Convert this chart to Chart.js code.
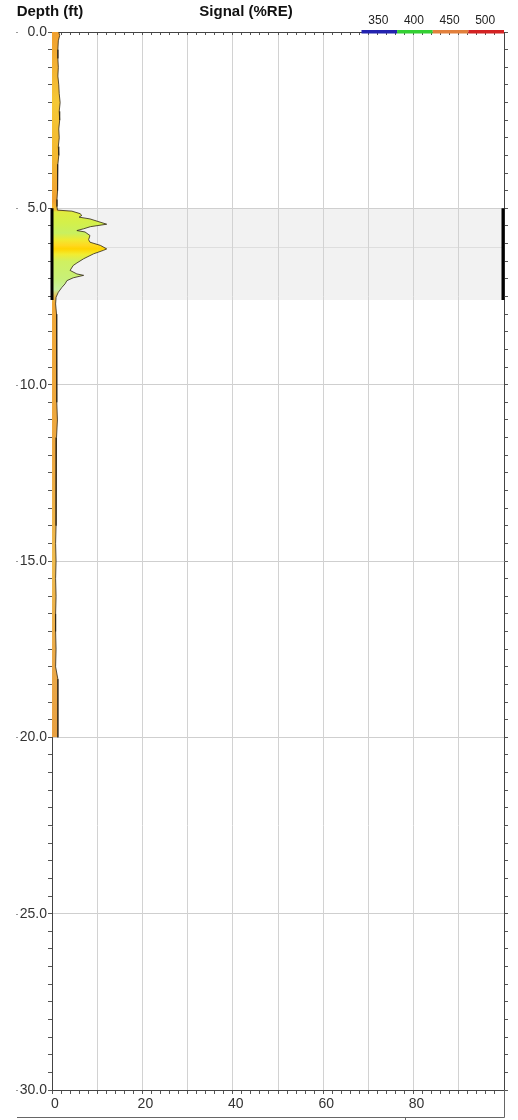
<!DOCTYPE html>
<html><head><meta charset="utf-8">
<script src="https://cdn.jsdelivr.net/npm/chart.js@4.4.1/dist/chart.umd.min.js"></script>
<style>html,body{margin:0;padding:0;background:#fff;overflow:hidden}#wrap{width:518px;height:1120px;position:relative}</style>
</head><body><div id="wrap"><canvas id="c" width="518" height="1120"></canvas></div>
<script>
// ---- data ----
const depthFt = [0.0,0.1,0.25,0.5,0.75,1.0,1.25,1.5,1.75,2.0,2.25,2.5,2.75,3.0,3.25,3.5,3.75,4.0,4.25,4.5,4.75,4.95,5.05,
  5.08,5.15,5.2,5.25,5.3,5.45,5.52,5.58,5.63,5.67,5.77,5.89,5.96,6.05,6.15,6.19,6.29,6.43,6.55,6.62,6.76,6.86,6.9,6.97,7.05,7.14,7.24,7.38,7.52,7.71,
  8.0,8.5,9.0,9.5,10.0,10.5,11.0,11.5,12.0,12.5,13.0,13.5,14.0,14.5,15.0,15.5,16.0,16.5,17.0,17.5,18.0,18.35,18.5,19.0,19.5,20.0];
const signalRE = [1.5,1.7,1.4,1.3,1.3,1.4,1.3,1.5,1.6,1.8,1.6,1.7,1.5,1.6,1.4,1.5,1.3,1.3,1.2,1.2,1.1,1.1,1.2,
  4.4,6.2,6.6,6.0,8.4,12.1,8.5,7.0,5.5,7.3,8.4,8.1,8.4,10.7,12.1,11.4,9.2,7.0,5.5,4.7,4.0,5.5,7.0,4.7,3.3,2.9,2.2,1.4,0.9,0.8,
  1.0,1.1,1.0,1.1,1.1,1.0,1.2,1.0,0.9,0.9,0.9,0.9,0.9,0.8,0.9,0.8,0.9,0.8,0.8,0.9,0.8,1.3,1.3,1.3,1.3,1.3];
const depthLabelTicks = [0,5,10,15,20,25,30];
const signalLabelTicks = [0,20,40,60,80];
const signalGridTicks = [10,20,30,40,50,60,70,80,90];
const highlightBand = [5.0, 7.6];
const bandDivider = 6.1;
const wavelengthLabels = ['350','400','450','500'];

// ---- styles ----
const wavelengthColors = ['#2323b0','#33d033','#e2803c','#d42222'];
const fillStops = [[0,'#f0a030'],[1.0,'#f3b232'],[2.0,'#f5c835'],[3.5,'#f3b830'],[4.8,'#f0a030'],[5.05,'#f0c030'],
  [5.1,'#e0ec40'],[5.4,'#d4f04a'],[5.7,'#c8f060'],[5.9,'#f0ea30'],[6.05,'#ffd820'],[6.15,'#ffd400'],[6.3,'#f2ec30'],
  [6.5,'#d0f060'],[7.0,'#c8f078'],[7.3,'#c8f0a0'],[7.5,'#e8c050'],[7.7,'#f0a838'],[12,'#eda840'],[15,'#efbc50'],[18,'#eaa848'],[20,'#e8a040']];

Chart.defaults.font.family = '"Liberation Sans", Arial, sans-serif';
Chart.defaults.color = '#333';

const near = (v, arr) => arr.some(t => Math.abs(v - t) < 1e-6);

function fillGradient(ctx) {
  const chart = ctx.chart;
  const ys = chart.scales && chart.scales.y;
  if (!chart.chartArea || !ys) return '#f0a030';
  const top = ys.getPixelForValue(0), bot = ys.getPixelForValue(20);
  const g = chart.ctx.createLinearGradient(0, top, 0, bot);
  fillStops.forEach(([d, c]) => g.addColorStop(Math.min(1, Math.max(0, d / 20)), c));
  return g;
}

const decor = {
  id: 'decor',
  beforeDraw(chart) {
    const {ctx, chartArea: a, scales: {y}} = chart;
    ctx.save();
    const y0 = y.getPixelForValue(highlightBand[0]), y1 = y.getPixelForValue(highlightBand[1]);
    ctx.fillStyle = '#f2f2f2';
    ctx.fillRect(a.left, y0, a.right - a.left, y1 - y0);
    const ym = Math.round(y.getPixelForValue(bandDivider)) + 0.5;
    ctx.strokeStyle = '#dedede'; ctx.lineWidth = 1;
    ctx.beginPath(); ctx.moveTo(a.left, ym); ctx.lineTo(a.right, ym); ctx.stroke();
    ctx.restore();
  },
  afterDatasetsDraw(chart) {
    const {ctx, chartArea: a, scales: {y}} = chart;
    ctx.save();
    const y0 = y.getPixelForValue(highlightBand[0]), y1 = y.getPixelForValue(highlightBand[1]);
    ctx.strokeStyle = '#000'; ctx.lineWidth = 3;
    ctx.beginPath();
    ctx.moveTo(a.left, y0); ctx.lineTo(a.left, y1);
    ctx.moveTo(a.right - 1, y0); ctx.lineTo(a.right - 1, y1);
    ctx.stroke();
    ctx.restore();
  },
  afterDraw(chart) {
    const {ctx, chartArea: a, scales: {y}} = chart;
    ctx.save();
    ctx.fillStyle = '#111';
    ctx.font = 'bold 15px "Liberation Sans", Arial, sans-serif';
    ctx.textBaseline = 'middle'; ctx.textAlign = 'center';
    ctx.fillText('Depth (ft)', 50, 12);
    ctx.fillText('Signal (%RE)', 246, 12);
    // wavelength colour scale
    const x0 = 361.5, w = (a.right - x0) / wavelengthColors.length;
    ctx.font = '12px "Liberation Sans", Arial, sans-serif';
    wavelengthColors.forEach((c, i) => {
      ctx.fillStyle = c;
      ctx.fillRect(x0 + i * w, 30, w, 3.5);
      ctx.fillStyle = '#222';
      ctx.fillText(wavelengthLabels[i], x0 + i * w + w / 2 - 1, 21);
    });
    // small marks before depth labels
    ctx.fillStyle = '#999';
    depthLabelTicks.forEach(d => { ctx.fillRect(16, Math.round(y.getPixelForValue(d)), 2, 1); });
    // bottom frame line
    ctx.strokeStyle = '#666'; ctx.lineWidth = 1;
    ctx.beginPath();
    ctx.moveTo(17, 1117.5); ctx.lineTo(a.right + 0.5, 1117.5);
    ctx.moveTo(a.right + 0.5, a.bottom); ctx.lineTo(a.right + 0.5, 1117.5);
    ctx.moveTo(405.5, 1117.5); ctx.lineTo(405.5, 1120);
    ctx.stroke();
    ctx.restore();
  }
};

const tickFont = {size: 14};
new Chart(document.getElementById('c'), {
  type: 'line',
  data: {
    datasets: [{
      label: 'Signal',
      data: depthFt.map((d, i) => ({x: signalRE[i], y: d})),
      xAxisID: 'x', yAxisID: 'y',
      fill: 'origin',
      backgroundColor: fillGradient,
      borderColor: '#2e2414',
      borderWidth: 0.8,
      pointRadius: 0,
      tension: 0
    }]
  },
  options: {
    indexAxis: 'y',
    responsive: false,
    animation: false,
    events: [],
    layout: {padding: 0},
    plugins: {legend: {display: false}, tooltip: {enabled: false}, title: {display: false}},
    scales: {
      y: {
        type: 'linear', position: 'left', reverse: true, min: 0, max: 30,
        afterFit: s => { s.width = 52; },
        ticks: {stepSize: 0.5, autoSkip: false, font: tickFont, color: '#333', padding: 1,
          callback: v => near(v, depthLabelTicks) ? v.toFixed(1) : ''},
        grid: {color: c => (near(c.tick.value, [5,10,15,20,25])) ? '#cfcfcf' : 'rgba(0,0,0,0)',
          tickColor: '#555', tickLength: 4, lineWidth: 1},
        border: {color: '#444', width: 1}
      },
      y2: {
        type: 'linear', position: 'right', reverse: true, min: 0, max: 30,
        afterFit: s => { s.width = 14; },
        ticks: {stepSize: 0.5, autoSkip: false, callback: () => ''},
        grid: {drawOnChartArea: false, tickColor: '#555', tickLength: 4},
        border: {color: '#444', width: 1}
      },
      x: {
        type: 'linear', position: 'bottom', min: 0, max: 100,
        afterFit: s => { s.height = 30; },
        ticks: {stepSize: 2, autoSkip: false, maxRotation: 0, font: tickFont, color: '#333', padding: 2, labelOffset: 3,
          callback: v => near(v, signalLabelTicks) ? String(v) : ''},
        grid: {color: c => near(c.tick.value, signalGridTicks) ? '#d2d2d2' : 'rgba(0,0,0,0)',
          tickColor: '#555', tickLength: 4},
        border: {color: '#444', width: 1}
      },
      x2: {
        type: 'linear', position: 'top', min: 0, max: 100,
        afterFit: s => { s.height = 32; },
        ticks: {stepSize: 2, autoSkip: false, maxRotation: 0, callback: () => ''},
        grid: {drawOnChartArea: false, tickColor: '#555', tickLength: -3},
        border: {color: '#444', width: 1}
      }
    }
  },
  plugins: [decor]
});
</script>
</body></html>
